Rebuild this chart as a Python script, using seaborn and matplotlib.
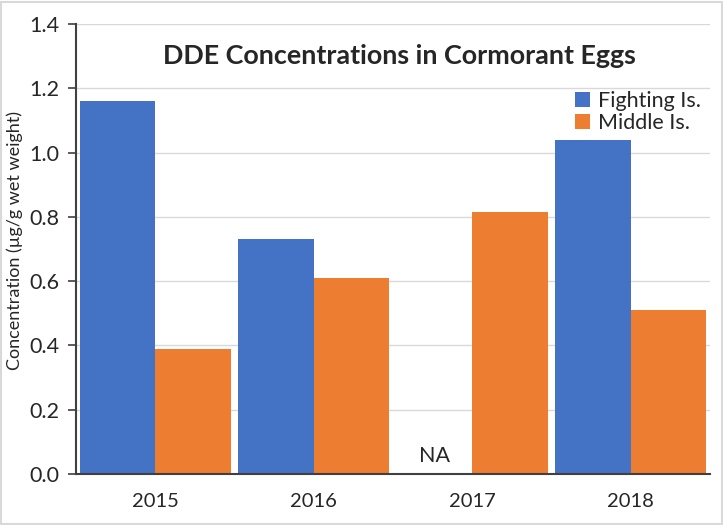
import numpy as np
import pandas as pd
import matplotlib.pyplot as plt
import seaborn as sns
from matplotlib.patches import Rectangle

# 数据
years = ['2015', '2016', '2017', '2018']
fighting = [1.16, 0.73, np.nan, 1.04]
middle = [0.39, 0.61, 0.815, 0.51]
series_names = ['Fighting Is.', 'Middle Is.']
colors = ['#4472C4', '#ED7D31']

df = pd.DataFrame({
    'year': years * 2,
    'value': fighting + middle,
    'site': [series_names[0]] * 4 + [series_names[1]] * 4,
})

sns.set_style('white')
plt.rcParams['font.family'] = ['Lato', 'DejaVu Sans']

fig = plt.figure(figsize=(7.23, 5.25), dpi=100)
ax = fig.add_axes([0.1051, 0.0971, 0.877, 0.857])

sns.barplot(data=df, x='year', y='value', hue='site', palette=colors,
            width=0.953, linewidth=0, saturation=1, ax=ax)

ax.set_ylim(0, 1.4)
ax.set_yticks(np.arange(0, 1.41, 0.2))
ax.set_yticklabels([f'{v:.1f}' for v in np.arange(0, 1.41, 0.2)], fontsize=15.5)
ax.set_xlim(-0.5, len(years) - 0.5)
ax.set_xticks(range(len(years)))
ax.set_xticklabels(years, fontsize=14.5)
ax.set_xticks(np.arange(-0.5, len(years)), minor=True)
ax.tick_params(axis='x', which='major', length=0, pad=14)
ax.tick_params(axis='x', which='minor', length=6, width=1.2, color='#404040', direction='out')
ax.tick_params(axis='y', which='major', length=6, width=1.2, color='#404040', direction='out', left=True, pad=6)
ax.grid(axis='y', color='#D9D9D9', linewidth=1)
ax.set_axisbelow(True)
for s in ['top', 'right']:
    ax.spines[s].set_visible(False)
for s in ['left', 'bottom']:
    ax.spines[s].set_color('#404040')
    ax.spines[s].set_linewidth(1.5)

ax.set_xlabel('')
ax.set_ylabel('Concentration (µg/g wet weight)', fontsize=13, va='center')
ax.yaxis.set_label_coords(-0.096, 0.52)

ax.text(0.51, 0.93, 'DDE Concentrations in Cormorant Eggs', transform=ax.transAxes,
        ha='center', va='center', fontsize=19.4, fontweight='bold')

# 2017 没有数据
ax.text(2 - 0.953 / 4, 0.055, 'NA', ha='center', va='center', fontsize=15.5)

ax.legend(loc='upper right', bbox_to_anchor=(1.0, 0.87), frameon=False, fontsize=15.5,
          handlelength=0.7, handleheight=0.7, handletextpad=0.4, labelspacing=0.1,
          borderaxespad=0)

fig.patches.append(Rectangle((0.001, 0.001), 0.997, 0.996, transform=fig.transFigure,
                             fill=False, edgecolor='#D9D9D9', linewidth=1.5))

fig.savefig('out.png', dpi=100)
